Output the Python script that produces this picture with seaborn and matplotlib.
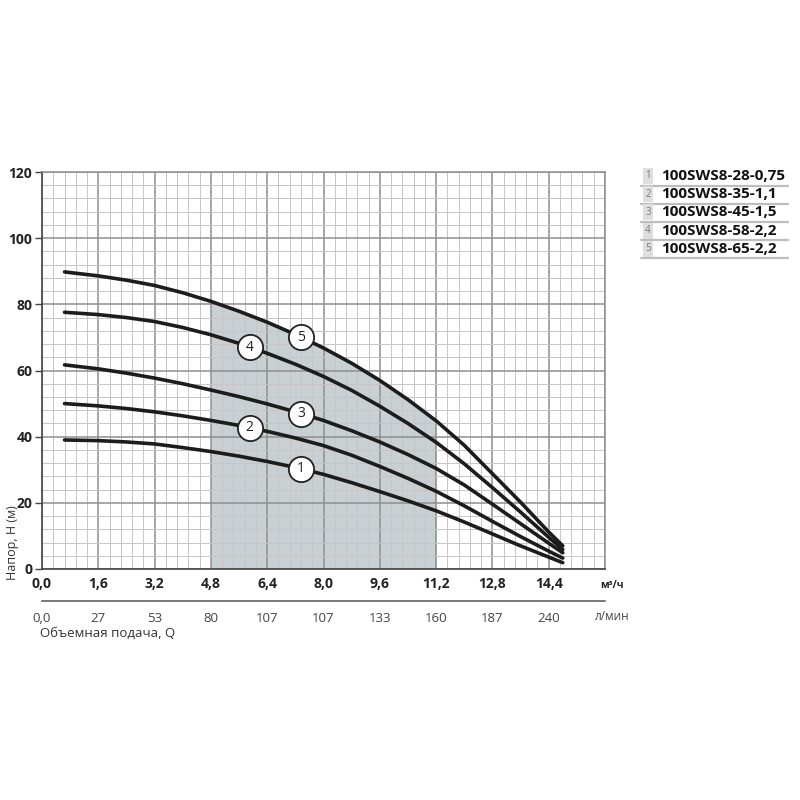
import matplotlib
matplotlib.use('Agg')
import matplotlib.pyplot as plt
from matplotlib.ticker import FixedLocator, MultipleLocator
from matplotlib.lines import Line2D
import seaborn as sns
import pandas as pd
import numpy as np

# Flow rate points (m3/h) and head curves (m)
flow = [0.64, 1.6, 2.4, 3.2, 4.0, 4.8, 5.6, 6.4, 7.2, 8.0, 8.8, 9.6, 10.4, 11.2, 12.0, 12.8, 13.6, 14.4, 14.8]
head_1 = [39.0, 38.8, 38.4, 37.8, 36.7, 35.5, 34.1, 32.5, 30.7, 28.6, 26.1, 23.4, 20.6, 17.6, 14.2, 10.6, 7.0, 3.6, 1.9]
head_2 = [50.0, 49.3, 48.5, 47.5, 46.3, 44.9, 43.4, 41.6, 39.6, 37.3, 34.4, 31.0, 27.4, 23.5, 19.1, 14.4, 9.8, 5.4, 3.3]
head_3 = [61.7, 60.5, 59.2, 57.7, 56.0, 54.1, 52.1, 49.9, 47.5, 44.9, 41.8, 38.4, 34.6, 30.4, 25.4, 19.6, 13.7, 7.8, 4.9]
head_4 = [77.6, 76.9, 76.0, 74.8, 73.0, 70.8, 68.2, 65.2, 61.9, 58.2, 54.0, 49.2, 44.0, 38.3, 31.8, 24.6, 17.2, 9.6, 5.9]
head_5 = [89.8, 88.6, 87.3, 85.7, 83.5, 80.9, 77.9, 74.6, 70.9, 66.8, 62.2, 57.0, 51.2, 44.8, 37.4, 28.8, 20.2, 11.2, 7.0]
models = ['100SWS8-28-0,75', '100SWS8-35-1,1', '100SWS8-45-1,5', '100SWS8-58-2,2', '100SWS8-65-2,2']

# working range (shaded)
work_range = [4.8, 11.2]
# where the number markers sit along each curve
label_flow = [7.36, 5.9, 7.36, 5.9, 7.36]

# axis ticks
q_ticks = [0, 1.6, 3.2, 4.8, 6.4, 8.0, 9.6, 11.2, 12.8, 14.4, 16.0]
q_labels = ['0,0', '1,6', '3,2', '4,8', '6,4', '8,0', '9,6', '11,2', '12,8', '14,4', '']
lmin_labels = ['0,0', '27', '53', '80', '107', '107', '133', '160', '187', '240', '']
h_ticks = [0, 20, 40, 60, 80, 100, 120]

heads = [head_1, head_2, head_3, head_4, head_5]
df = pd.concat([pd.DataFrame({'Q': flow, 'H': h, 'curve': str(i + 1)}) for i, h in enumerate(heads)])

sns.set_style('white')
plt.rcParams['font.family'] = ['Open Sans', 'DejaVu Sans']

fig = plt.figure(figsize=(8, 8), dpi=100)
ax = fig.add_axes([0.0525, 0.28875, 0.70375, 0.49625])

# shaded working zone under the top curve
q = np.array(flow)
mask = (q >= work_range[0]) & (q <= work_range[1])
ax.fill_between(q[mask], 0, np.array(head_5)[mask], color='#c9d0d4', linewidth=0, zorder=0.3)

sns.lineplot(data=df, x='Q', y='H', hue='curve', palette=['#1c1c1c'] * 5,
             estimator=None, sort=False, legend=False, linewidth=2.6, ax=ax, zorder=3)
for ln in ax.lines:
    ln.set_solid_joinstyle('round')
    ln.set_solid_capstyle('round')

# numbered circles
for i, h in enumerate(heads):
    yy = np.interp(label_flow[i], flow, h)
    ax.scatter([label_flow[i]], [yy], s=330, facecolor='white', edgecolor='#222', linewidth=1.3, zorder=4)
    ax.text(label_flow[i], yy, str(i + 1), ha='center', va='center', fontsize=10, color='#222', zorder=5)

ax.set_xlim(0, 16)
ax.set_ylim(0, 120)
ax.xaxis.set_major_locator(FixedLocator(q_ticks))
ax.xaxis.set_minor_locator(MultipleLocator(0.32))
ax.yaxis.set_major_locator(FixedLocator(h_ticks))
ax.yaxis.set_minor_locator(MultipleLocator(4))
ax.set_xticklabels(q_labels, fontsize=10, fontweight='bold', color='#222')
ax.set_yticklabels([str(v) for v in h_ticks], fontsize=10, fontweight='bold', color='#222')
ax.tick_params(axis='x', which='both', length=0, pad=6)
ax.tick_params(axis='y', which='major', length=5, width=1, color='#444', pad=2, left=True)
ax.tick_params(axis='y', which='minor', length=0)
ax.set_axisbelow(True)
ax.grid(which='major', color='#8e8e8e', linewidth=1.1)
ax.grid(which='minor', color='#c6c6c6', linewidth=0.7)
ax.set_xlabel('')
ax.set_ylabel('')
for side in ['left', 'bottom']:
    ax.spines[side].set_color('#444')
    ax.spines[side].set_linewidth(1.2)
for side in ['top', 'right']:
    ax.spines[side].set_color('#8e8e8e')
    ax.spines[side].set_linewidth(1.1)

fig.text(0.765, 1 - 586 / 800, 'м³/ч', fontsize=7.5, fontweight='bold', color='#222', ha='center', va='center')
fig.text(0.016, 1 - 580 / 800, 'Напор, H (м)', rotation=90, fontsize=9, color='#333', ha='center', va='bottom')

# second flow axis in l/min
ax2 = fig.add_axes([0.0525, 1 - 601 / 800, 0.70375, 0.0001])
ax2.set_xlim(0, 16)
ax2.set_xticks(q_ticks)
ax2.set_xticklabels(lmin_labels, fontsize=9.5, color='#444')
ax2.set_yticks([])
ax2.tick_params(axis='x', direction='out', length=6, width=1, color='#555', pad=2)
ax2.patch.set_visible(False)
for side in ['top', 'left', 'right']:
    ax2.spines[side].set_visible(False)
ax2.spines['bottom'].set_color('#555')
ax2.spines['bottom'].set_linewidth(1.1)
fig.text(0.765, 1 - 617 / 800, 'л/мин', fontsize=8.5, color='#444', ha='center', va='center')
fig.text(0.05, 1 - 633 / 800, 'Объемная подача, Q', fontsize=9.5, color='#333', ha='left', va='center')

# legend block on the right
for i, name in enumerate(models):
    y_px = 176 + 18.2 * i
    fig.text(648 / 800, 1 - y_px / 800, str(i + 1), fontsize=7, color='#777', ha='center', va='center',
             bbox=dict(boxstyle='square,pad=0.25', fc='#dedede', ec='none'))
    fig.text(661 / 800, 1 - y_px / 800, name, fontsize=11, fontweight='bold', color='#111', ha='left', va='center')
    ly = 1 - (y_px + 9.5) / 800
    fig.add_artist(Line2D([641 / 800, 788 / 800], [ly, ly], color='#bdbdbd', linewidth=1.6))

fig.savefig('out.png', dpi=100)
